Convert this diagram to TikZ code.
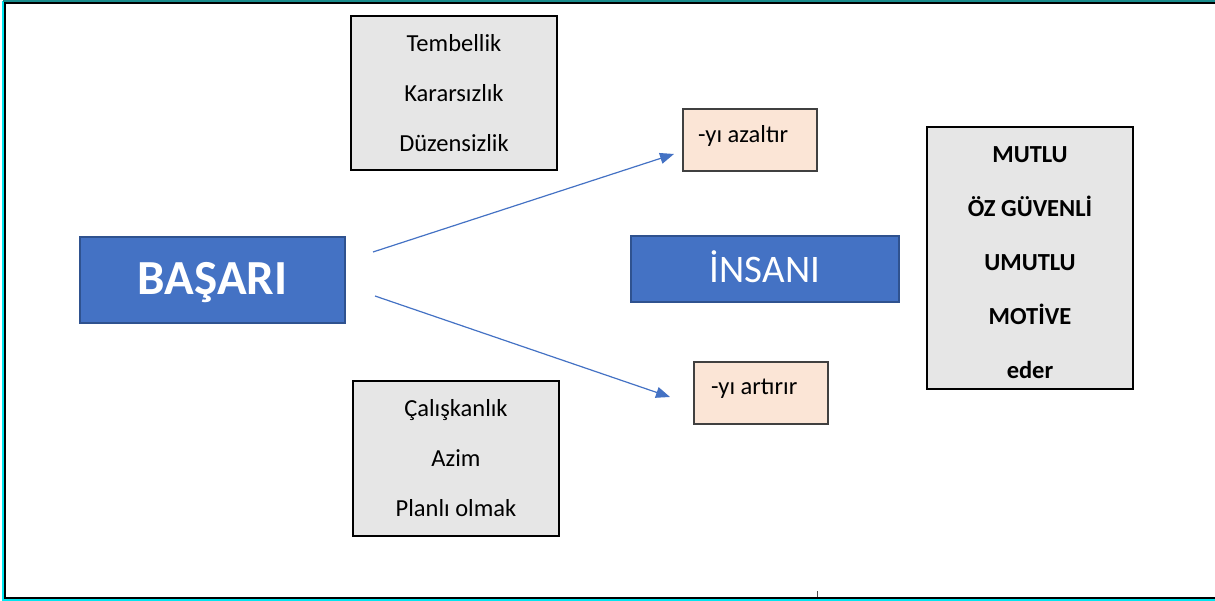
\documentclass[tikz,border=0pt]{standalone}
\usepackage{fontspec}
\setmainfont{Carlito}
\usetikzlibrary{arrows.meta}
\definecolor{officeblue}{HTML}{4472C4}
\definecolor{blueedge}{HTML}{2F528F}
\definecolor{boxgray}{HTML}{E6E6E6}
\definecolor{peach}{HTML}{FBE5D6}
\definecolor{frameteal}{HTML}{1A8C8C}
\definecolor{framecyan}{HTML}{00E5F0}
\tikzset{
  bluebox/.style={draw=blueedge, line width=1.5pt, fill=officeblue, text=white, inner sep=0pt},
  graybox/.style={draw=black, line width=2.4pt, fill=boxgray, inner sep=0pt, align=center,
    font={\fontsize{24.5}{50}\selectfont}},
  peachbox/.style={draw=black!75, line width=1.3pt, fill=peach, inner sep=0pt},
  smalltext/.style={font={\fontsize{24.5}{30}\selectfont}, inner sep=0pt},
  conn/.style={draw=officeblue, line width=1.2pt, -{Triangle[length=14pt,width=11pt]}},
}
\begin{document}
\begin{tikzpicture}[x=1pt,y=-1pt]
\useasboundingbox (0,0) rectangle (1215,601);
% frame
\draw[framecyan, line width=1.8pt] (3.2,1) -- (3.2,600.1) -- (1215,600.1);
\draw[frameteal, line width=1.4pt] (3,1.2) -- (1215,1.2);
\draw[black, line width=2pt] (1215,3) -- (5,3) -- (5,597.8) -- (1215,597.8);
\coordinate (tickA) at (817,591);
\coordinate (tickB) at (817,597);
\draw[black!70, line width=0.8pt] (tickA) -- (tickB);

% main nodes
\node[bluebox, minimum width=265pt, minimum height=86pt, text height=29pt, text depth=0pt,
  font={\fontsize{49}{52}\bfseries\selectfont}] (basari) at (212.5,280) {BAŞARI};
\node[bluebox, minimum width=268pt, minimum height=66pt, text height=28pt, text depth=0pt,
  font={\fontsize{39}{42}\selectfont}] (insani) at (765,269) {İNSANI};

% gray boxes
\node[graybox, minimum width=206pt, minimum height=154pt] (neg) at (454,93)
  {Tembellik\\Kararsızlık\\Düzensizlik};
\node[graybox, minimum width=206pt, minimum height=155pt] (pos) at (456,458.5)
  {Çalışkanlık\\Azim\\Planlı olmak};
\node[graybox, minimum width=206pt, minimum height=262pt] (res) at (1030,258) {};
\node[align=center, inner sep=0pt, font={\fontsize{24.5}{54}\bfseries\selectfont}] (restext) at (1030,263)
  {MUTLU\\ÖZ GÜVENLİ\\UMUTLU\\MOTİVE\\eder};

% peach boxes
\node[peachbox, minimum width=134pt, minimum height=62pt] (azal) at (750,140) {};
\node[smalltext, anchor=base west] (azaltxt) at (698,143) {-yı azaltır};
\node[peachbox, minimum width=134pt, minimum height=62pt] (art) at (761,393) {};
\node[smalltext, anchor=base west] (arttxt) at (711,395) {-yı artırır};

% connectors
\coordinate (up0) at (373,252);
\coordinate (up1) at (674,154);
\coordinate (dn0) at (375,296);
\coordinate (dn1) at (670,397);
\draw[conn] (up0) -- (up1);
\draw[conn] (dn0) -- (dn1);
\end{tikzpicture}
\end{document}
